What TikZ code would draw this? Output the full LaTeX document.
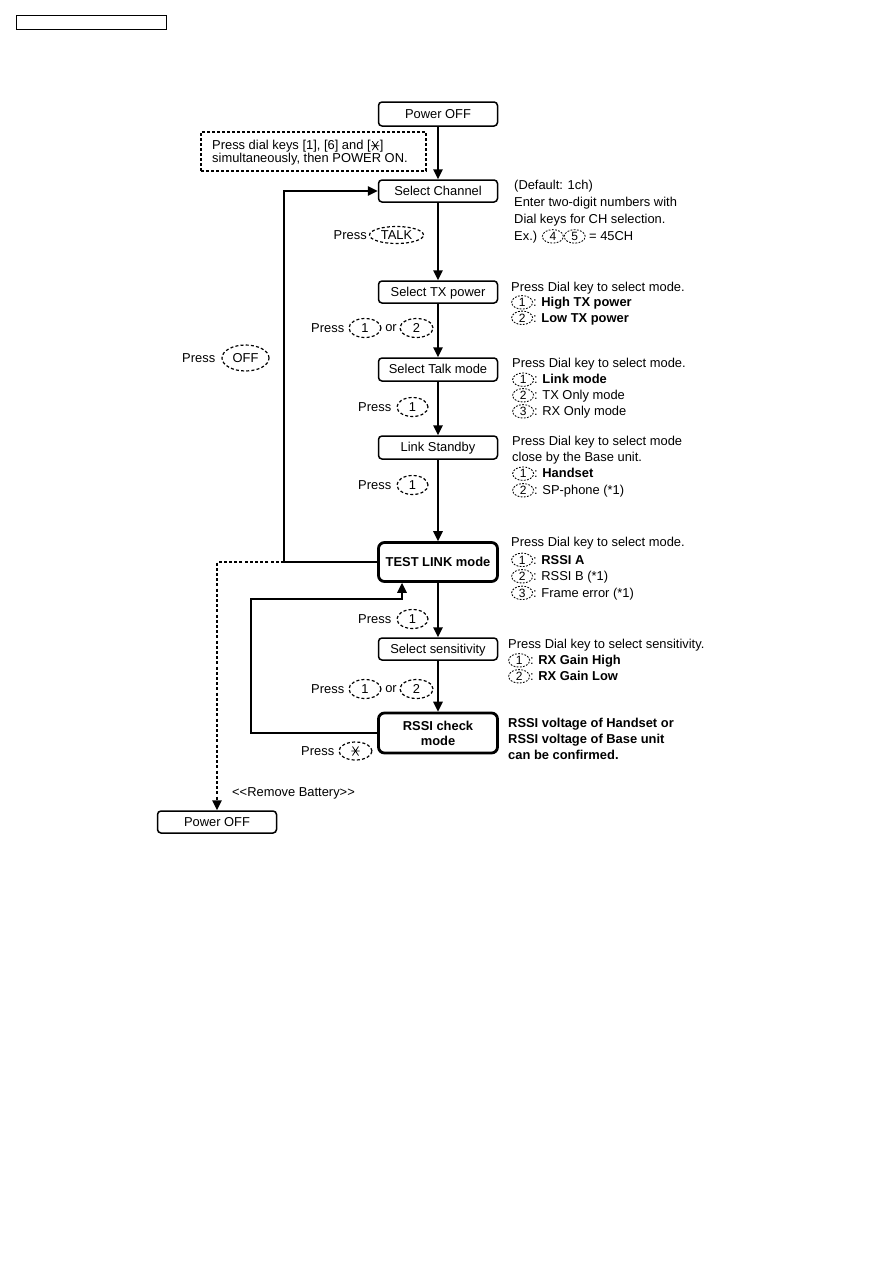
\documentclass[tikz,border=0pt]{standalone}
\usepackage{fontspec}
\setmainfont{Liberation Sans}
\usetikzlibrary{arrows.meta,shapes.geometric}
\newcommand\fs{\fontsize{12.9}{15}\selectfont}
\newcommand\nk[1]{\tikz[baseline=(nkK.base)]\node[draw,dash pattern=on 1.8pt off 1.4pt,line width=0.85pt,ellipse,inner sep=0pt,minimum width=21pt,minimum height=13.5pt,font=\fontsize{12}{12}\selectfont](nkK){#1};}
\newcommand\starg{\tikz[baseline=-4pt,line width=0.8pt]{\draw (-4.2pt,0)--(4.2pt,0) (-3pt,-4.5pt)--(3pt,4.5pt) (-3pt,4.5pt)--(3pt,-4.5pt);}}
\tikzset{
  basebox/.style={draw, line width=1.5pt, rounded corners=3.5pt, minimum width=119pt, minimum height=22pt, inner sep=0pt, font=\fs},
  box/.style={basebox, text height=9.3pt, text depth=0.4pt},
  bigbox/.style={basebox, line width=2.8pt, rounded corners=6pt, minimum height=39pt, font=\fs\bfseries, align=center},
  keyo/.style={draw, dash pattern=on 3pt off 2.2pt, line width=1.2pt, ellipse, inner sep=0pt, font=\fs},
  lbl/.style={inner sep=0pt, font=\fs},
  note/.style={inner sep=0pt, font=\fs, anchor=base west},
  arr/.style={line width=1.7pt, -{Triangle[length=10pt,width=9.5pt]}},
}
\begin{document}
\begin{tikzpicture}[x=1pt,y=-1pt]
\useasboundingbox (0,0) rectangle (893,1263);
% header box
\node[draw, line width=1pt, minimum width=150pt, minimum height=14pt, inner sep=0pt] (hdr) at (91,23) {};
% main boxes
\node[box, minimum height=24pt] (pw1) at (438,114) {Power OFF};
\node[box] (ch) at (438,191) {Select Channel};
\node[box] (tx) at (438,292) {Select TX power};
\node[box, minimum height=23pt] (tm) at (438,369.5) {Select Talk mode};
\node[box, minimum height=23pt] (ls) at (438,447.5) {Link Standby};
\node[bigbox] (tl) at (438,562) {TEST LINK mode};
\node[box] (ss) at (438,649) {Select sensitivity};
\node[bigbox, minimum height=40pt] (rs) at (438,733) {RSSI check\\mode};
\node[box] (pw2) at (217,822) {Power OFF};
% dashed instruction box
\node[draw, dash pattern=on 3pt off 2pt, line width=1.2pt, minimum width=225pt, minimum height=39pt, inner sep=0pt] (db) at (313.5,151.5) {};
\node[lbl, align=left, anchor=west, font=\fontsize{12.9}{13.2}\selectfont] (dbt) at (212,153) {Press dial keys [1], [6] and [\starg]\\simultaneously, then POWER ON.};
% coordinates
\coordinate (c1) at (284,562);
\coordinate (c2) at (217,562);
\coordinate (c4) at (251,599);
\coordinate (c5) at (402,599);
% connectors
\draw[arr] (pw1.south) -- (ch.north);
\draw[arr] (ch.south) -- (tx.north);
\draw[arr] (tx.south) -- (tm.north);
\draw[arr] (tm.south) -- (ls.north);
\draw[arr] (ls.south) -- (tl.north);
\draw[arr] (tl.south) -- (ss.north);
\draw[arr] (ss.south) -- (rs.north);
\draw[arr] (tl.west) -- (c1) |- (ch.west);
\draw[arr, dash pattern=on 3pt off 2.2pt] (c1) -- (c2) -- (pw2.north);
\draw[arr] (rs.west) -| (c4) -- (c5) -- (tl.south -| c5);
% press labels
\node[keyo, minimum width=54pt, minimum height=17pt] (kTalk) at (396.5,235) {TALK};
\node[lbl, anchor=east] (pTalk) at ([xshift=-2pt]kTalk.west) {Press};
\node[keyo, minimum width=32pt, minimum height=19pt] (kTx1) at (365,328) {1};
\node[lbl] (orTx) at (391,328) {or};
\node[keyo, minimum width=33pt, minimum height=19pt] (kTx2) at (416.5,328) {2};
\node[lbl, anchor=east] (pTx) at ([xshift=-4pt]kTx1.west) {Press};
\node[keyo, minimum width=31pt, minimum height=19pt] (kTm) at (412.5,407) {1};
\node[lbl, anchor=east] (pTm) at ([xshift=-5pt]kTm.west) {Press};
\node[keyo, minimum width=31pt, minimum height=19pt] (kLs) at (412.5,485) {1};
\node[lbl, anchor=east] (pLs) at ([xshift=-5pt]kLs.west) {Press};
\node[keyo, minimum width=47pt, minimum height=26pt] (kOff) at (245.5,358) {OFF};
\node[lbl, anchor=east] (pOff) at ([xshift=-6pt]kOff.west) {Press};
\node[keyo, minimum width=31pt, minimum height=19pt] (kTl) at (412.5,619) {1};
\node[lbl, anchor=east] (pTl) at ([xshift=-5pt]kTl.west) {Press};
\node[keyo, minimum width=32pt, minimum height=19pt] (kSs1) at (365,689) {1};
\node[lbl] (orSs) at (391,689) {or};
\node[keyo, minimum width=33pt, minimum height=19pt] (kSs2) at (416.5,689) {2};
\node[lbl, anchor=east] (pSs) at ([xshift=-4pt]kSs1.west) {Press};
\node[keyo, minimum width=33pt, minimum height=18pt] (kSt) at (355.5,751) {\starg};
\node[lbl, anchor=east] (pSt) at ([xshift=-4pt]kSt.west) {Press};
% notes
\node[note] (n1a) at (514,189.5) {(Default: 1ch)};
\node[note] (n1b) at (514,206.8) {Enter two-digit numbers with};
\node[note] (n1c) at (514,223.5) {Dial keys for CH selection.};
\node[note] (n1d) at (514,240.5) {Ex.) \nk{4}\nk{5} = 45CH};
\node[note] (n2a) at (511,291.5) {Press Dial key to select mode.};
\node[note] (n2b) at (511,306.5) {\nk{1}: \textbf{High TX power}};
\node[note] (n2c) at (511,322) {\nk{2}: \textbf{Low TX power}};
\node[note] (n3a) at (512,367.8) {Press Dial key to select mode.};
\node[note] (n3b) at (512,383.8) {\nk{1}: \textbf{Link mode}};
\node[note] (n3c) at (512,399.5) {\nk{2}: TX Only mode};
\node[note] (n3d) at (512,415.5) {\nk{3}: RX Only mode};
\node[note] (n4a) at (512,445.5) {Press Dial key to select mode};
\node[note] (n4b) at (512,461.8) {close by the Base unit.};
\node[note] (n4c) at (512,477.8) {\nk{1}: \textbf{Handset}};
\node[note] (n4d) at (512,494.5) {\nk{2}: SP-phone (*1)};
\node[note] (n5a) at (511,546) {Press Dial key to select mode.};
\node[note] (n5b) at (511,564) {\nk{1}: \textbf{RSSI A}};
\node[note] (n5c) at (511,580.5) {\nk{2}: RSSI B (*1)};
\node[note] (n5d) at (511,597) {\nk{3}: Frame error (*1)};
\node[note] (n6a) at (508,648.8) {Press Dial key to select sensitivity.};
\node[note] (n6b) at (508,664.5) {\nk{1}: \textbf{RX Gain High}};
\node[note] (n6c) at (508,680.5) {\nk{2}: \textbf{RX Gain Low}};
\node[note, font=\fs\bfseries] (n7a) at (508,727.2) {RSSI voltage of Handset or};
\node[note, font=\fs\bfseries] (n7b) at (508,743.5) {RSSI voltage of Base unit};
\node[note, font=\fs\bfseries] (n7c) at (508,759.5) {can be confirmed.};
\node[note] (rb) at (232,796.5) {<{}<Remove Battery>{}>};
\end{tikzpicture}
\end{document}
